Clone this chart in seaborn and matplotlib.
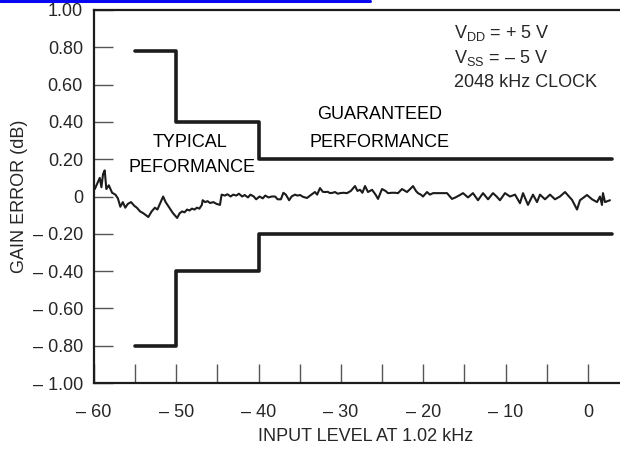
import matplotlib
matplotlib.use("Agg")
import matplotlib.pyplot as plt
from matplotlib.lines import Line2D
import seaborn as sns

# Measured gain error versus input level (dB)
level_db = [
    -59.9, -59.6, -59.3, -59.1, -58.9, -58.7, -58.5, -58.2, -57.8, -57.4,
    -57.1, -56.8, -56.5, -56.2, -55.9, -55.5, -55.1, -54.8, -54.4, -54.0,
    -53.7, -53.4, -53.0, -52.6, -52.3, -52.0, -51.6, -51.3, -51.0, -50.7,
    -50.4, -49.9, -49.6, -49.3, -49.0, -48.7, -48.4, -48.1, -47.8, -47.5,
    -47.2, -46.9, -46.8, -46.5, -46.2, -45.9, -45.5, -45.1, -44.7, -44.5,
    -44.1, -43.8, -43.4, -43.1, -42.7, -42.4, -42.0, -41.7, -41.3, -41.0,
    -40.6, -40.3, -39.9, -39.5, -39.2, -38.8, -38.4, -38.0, -37.7, -37.3,
    -37.0, -36.7, -36.3, -36.0, -35.6, -35.3, -34.98, -34.6, -34.13, -33.6,
    -33.16, -32.9, -32.55, -32.2, -31.94, -31.6, -31.33, -31.0, -30.73, -30.4,
    -30.12, -29.7, -29.27, -28.8, -28.30, -28.0, -27.69, -27.4, -27.08, -26.72,
    -26.23, -25.8, -25.50, -25.02, -24.6, -24.29, -23.8, -23.4, -23.08, -22.59,
    -21.98, -21.6, -21.25, -20.9, -20.65, -20.3, -20.04, -19.55, -19.2, -18.82,
    -18.4, -17.97, -17.5, -17.12, -16.52, -16.1, -15.55, -15.18, -14.57, -13.97,
    -13.36, -12.75, -12.14, -11.54, -11.1, -10.69, -10.08, -9.47, -8.86, -8.26,
    -7.89, -7.29, -6.68, -6.19, -5.83, -5.22, -4.61, -4.01, -3.40, -2.79,
    -1.94, -1.33, -0.97, -0.12, 0.49, 1.10, 1.46, 1.70, 1.82, 2.07, 2.67,
]
gain_error_db = [
    0.04, 0.07, 0.10, 0.05, 0.12, 0.14, 0.04, 0.06, 0.02, 0.01,
    -0.01, -0.055, -0.03, -0.06, -0.04, -0.03, -0.05, -0.06, -0.08, -0.09,
    -0.10, -0.11, -0.08, -0.06, -0.07, -0.04, 0.0, -0.03, -0.05, -0.07,
    -0.09, -0.115, -0.09, -0.08, -0.085, -0.07, -0.075, -0.065, -0.07, -0.06,
    -0.065, -0.045, -0.02, -0.03, -0.025, -0.035, -0.03, -0.04, -0.045, 0.01,
    0.005, 0.012, 0.0, 0.01, 0.005, 0.015, 0.0, 0.008, -0.005, 0.01,
    0.0, -0.015, 0.0, -0.01, 0.005, -0.005, 0.0, 0.0, -0.015, -0.015,
    0.02, 0.01, -0.02, 0.0, 0.01, 0.005, 0.008, -0.002, -0.008, 0.01,
    0.024, 0.01, 0.045, 0.025, 0.024, 0.025, 0.018, 0.02, 0.024, 0.015,
    0.018, 0.02, 0.018, 0.03, 0.056, 0.03, 0.036, 0.02, 0.056, 0.024,
    0.036, 0.01, -0.013, 0.04, 0.03, 0.018, 0.02, 0.02, 0.018, 0.04,
    0.024, 0.04, 0.056, 0.03, 0.018, 0.01, 0.0, 0.024, 0.01, 0.018,
    0.018, 0.018, 0.018, 0.018, -0.013, -0.005, 0.008, 0.018, -0.005, 0.018,
    -0.02, 0.018, -0.015, 0.018, 0.0, -0.02, 0.018, 0.0, 0.01, -0.036,
    0.018, -0.045, 0.01, -0.03, 0.01, -0.015, 0.01, -0.015, 0.0, 0.024,
    -0.018, -0.07, -0.02, 0.008, -0.015, -0.03, 0.0, -0.045, 0.018, -0.03, -0.02,
]

# Typical and guaranteed limits (step boundaries)
limit_level = [-55, -50, -40, 2.9]
upper_limit = [0.78, 0.40, 0.20, 0.20]
lower_limit = [-0.80, -0.40, -0.20, -0.20]

x_major = [-60, -50, -40, -30, -20, -10, 0]
x_labels = ["\u2013 60", "\u2013 50", "\u2013 40", "\u2013 30", "\u2013 20", "\u2013 10", "0"]
x_minor = [-55, -45, -35, -25, -15, -5]
y_ticks = [1.0, 0.8, 0.6, 0.4, 0.2, 0.0, -0.2, -0.4, -0.6, -0.8, -1.0]
y_labels = ["1.00", "0.80", "0.60", "0.40", "0.20", "0",
            "\u2013 0.20", "\u2013 0.40", "\u2013 0.60", "\u2013 0.80", "\u2013 1.00"]

sns.set_theme(style="white")
plt.rcParams["font.family"] = ["Liberation Sans", "DejaVu Sans"]
plt.rcParams["mathtext.fontset"] = "custom"
plt.rcParams["mathtext.rm"] = "Liberation Sans"
plt.rcParams["mathtext.it"] = "Liberation Sans"

FS = 13
INK = "#1c1c1c"

fig = plt.figure(figsize=(6.2, 4.53), dpi=100)
ax = fig.add_axes([94 / 620, 1 - 383 / 453, 1 - 94 / 620, 373 / 453])

sns.lineplot(x=limit_level, y=upper_limit, ax=ax, drawstyle="steps-post",
             estimator=None, sort=False, color=INK, linewidth=2.6)
sns.lineplot(x=limit_level, y=lower_limit, ax=ax, drawstyle="steps-post",
             estimator=None, sort=False, color=INK, linewidth=2.6)
sns.lineplot(x=level_db, y=gain_error_db, ax=ax, estimator=None, sort=False,
             color=INK, linewidth=1.5)

ax.set_xlim(-60, -60 + 526 / 8.233)
ax.set_ylim(-1.0, 1.0)

ax.set_xticks(x_major)
ax.set_xticklabels(x_labels, fontsize=FS)
ax.set_xticks(x_minor, minor=True)
ax.set_yticks(y_ticks)
ax.set_yticklabels(y_labels, fontsize=FS)

ax.tick_params(axis="both", which="both", direction="in", length=13.5,
               width=1.0, color="#555555", bottom=True, left=True)
ax.tick_params(axis="x", pad=15)
ax.tick_params(axis="y", pad=8)

for side in ("top", "left", "bottom"):
    ax.spines[side].set_visible(True)
    ax.spines[side].set_color(INK)
    ax.spines[side].set_linewidth(1.6)
ax.spines["right"].set_visible(False)

ax.set_xlabel("INPUT LEVEL AT 1.02 kHz", fontsize=FS)
ax.xaxis.set_label_coords((366 - 94) / 526, -(428 - 383) / 373, transform=ax.transAxes)
ax.set_ylabel("GAIN ERROR (dB)", fontsize=FS)
ax.yaxis.set_label_coords(-(94 - 28) / 526, (383 - 196) / 373, transform=ax.transAxes)

ax.text(-48.3, 0.29, "TYPICAL", ha="center", va="center", fontsize=FS, color="black")
ax.text(-48.1, 0.155, "PEFORMANCE", ha="center", va="center", fontsize=FS, color="black")
ax.text(-25.3, 0.437, "GUARANTEED", ha="center", va="center", fontsize=FS, color="black")
ax.text(-25.3, 0.292, "PERFORMANCE", ha="center", va="center", fontsize=FS, color="black")

ax.text(-16.3, 0.877, r"V$_{\mathrm{DD}}$ = + 5 V", ha="left", va="center", fontsize=FS)
ax.text(-16.3, 0.743, "V$_{\\mathrm{SS}}$ = \u2013 5 V", ha="left", va="center", fontsize=FS)
ax.text(-16.3, 0.610, "2048 kHz CLOCK", ha="left", va="center", fontsize=FS)

fig.add_artist(Line2D([0, 370 / 620], [1 - 1.2 / 453, 1 - 1.2 / 453],
                      color="#0808f0", linewidth=2.2, transform=fig.transFigure))

fig.savefig("out.png", dpi=100)
